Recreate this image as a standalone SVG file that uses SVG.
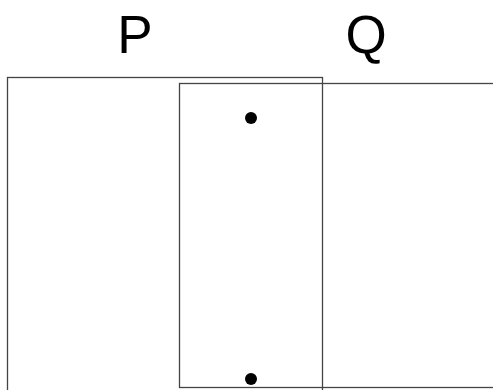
<svg xmlns="http://www.w3.org/2000/svg" width="493" height="390" viewBox="0 0 493 390">
<style>
.lbl{font-family:"Liberation Sans",Arial,sans-serif;font-size:53px;fill:#000;text-anchor:middle}
.box{fill:none;stroke:#444;stroke-width:1.3}
.dot{fill:#000}
</style>
<rect width="493" height="390" fill="#fff"/>
<g id="P">
<rect class="box" x="7.5" y="77.5" width="315" height="330"/>
<text class="lbl" x="135" y="53">P</text>
</g>
<g id="Q">
<rect class="box" x="179.5" y="83.5" width="330" height="304"/>
<text class="lbl" x="366" y="53">Q</text>
</g>
<g id="connectors">
<circle class="dot" cx="251" cy="118" r="6"/>
<circle class="dot" cx="251" cy="379" r="6"/>
</g>
</svg>
